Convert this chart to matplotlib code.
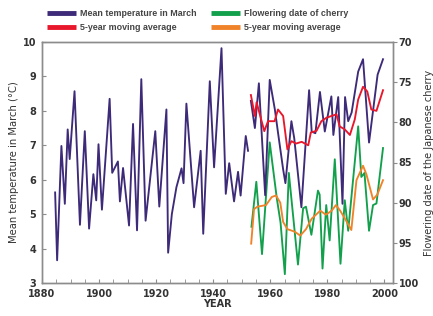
import matplotlib
matplotlib.use("Agg")
import matplotlib.pyplot as plt
from matplotlib.ticker import MultipleLocator

# ---- data ----
temp1_years = [1884.6, 1885.3, 1886.8, 1888.0, 1889.0, 1889.7, 1891.4, 1893.3, 1895.0, 1896.5,
               1898.0, 1899.0, 1899.8, 1901.0, 1903.7, 1904.6, 1906.6, 1907.3, 1908.4, 1910.5,
               1911.9, 1913.3, 1914.8, 1916.3, 1919.7, 1921.1, 1923.6, 1924.2, 1925.5, 1927.1,
               1928.9, 1929.6, 1930.6, 1933.3, 1935.6, 1936.5, 1938.8, 1940.3, 1942.9, 1944.4,
               1945.6, 1947.3, 1948.7, 1949.6, 1951.4, 1952.2]
temp1_vals = [5.63, 3.66, 6.98, 5.30, 7.46, 6.60, 8.57, 4.69, 7.41, 4.58,
              6.16, 5.40, 7.03, 5.13, 8.35, 6.20, 6.53, 5.37, 6.34, 4.67,
              7.62, 4.53, 8.92, 4.81, 7.41, 5.22, 8.04, 3.88, 5.00, 5.78,
              6.33, 5.90, 8.21, 5.20, 6.84, 4.43, 8.86, 6.36, 9.82, 5.59,
              6.48, 5.37, 6.23, 5.54, 7.27, 6.84]

temp2_years = [1953.2, 1954.6, 1956.0, 1958.2, 1959.8, 1961.6, 1962.7, 1964.5, 1965.3, 1967.4,
               1968.4, 1970.9, 1973.6, 1974.5, 1975.8, 1977.4, 1979.1, 1981.4, 1982.1, 1983.8,
               1985.3, 1986.2, 1987.3, 1988.5, 1990.8, 1992.5, 1994.6, 1997.6, 1999.5]
temp2_vals = [8.29, 7.50, 8.80, 5.55, 8.90, 8.04, 7.37, 6.30, 5.90, 7.70,
              7.20, 5.20, 8.60, 7.40, 7.35, 8.55, 7.40, 8.42, 7.30, 8.40,
              5.30, 8.40, 7.70, 7.95, 9.14, 9.50, 7.08, 9.05, 9.50]

tma_years = [1953.2, 1954.6, 1955.2, 1957.9, 1959.2, 1961.5, 1962.7, 1964.5, 1966.0, 1967.4,
             1969.0, 1971.0, 1973.3, 1974.2, 1976.2, 1977.9, 1979.7, 1981.4, 1983.2, 1984.3,
             1986.1, 1987.9, 1989.6, 1990.8, 1992.5, 1994.0, 1995.4, 1997.2, 1999.5]
tma_vals = [8.46, 7.85, 8.25, 7.41, 7.70, 7.70, 8.04, 7.85, 6.88, 7.12,
            7.05, 7.10, 7.00, 7.37, 7.42, 7.70, 7.80, 7.85, 7.90, 7.55,
            7.46, 7.30, 7.75, 8.33, 8.70, 8.56, 8.04, 8.00, 8.60]

flower_years = [1953.4, 1955.1, 1957.1, 1959.8, 1962.3, 1963.6, 1965.1, 1966.5, 1969.7, 1971.5,
                1972.5, 1974.4, 1976.7, 1977.3, 1978.3, 1979.6, 1980.8, 1982.6, 1984.6, 1986.1,
                1987.3, 1990.8, 1991.9, 1993.0, 1994.6, 1996.0, 1997.2, 1999.5]
flower_vals = [93.0, 87.4, 96.4, 82.5, 89.5, 92.5, 98.9, 86.3, 97.7, 90.7,
               90.5, 94.0, 88.5, 89.0, 98.2, 90.3, 94.7, 84.6, 97.6, 89.7,
               93.5, 80.5, 86.8, 86.3, 93.5, 90.3, 90.1, 83.2]

fma_years = [1953.3, 1954.3, 1955.5, 1958.5, 1960.5, 1962.0, 1963.5, 1964.5, 1966.0, 1968.5,
             1970.5, 1972.5, 1974.5, 1976.0, 1977.5, 1979.5, 1981.5, 1983.0, 1984.5, 1986.5,
             1988.4, 1990.2, 1992.5, 1993.7, 1996.0, 1997.5, 1999.5]
fma_vals = [95.1, 90.8, 90.5, 90.3, 89.3, 89.1, 90.0, 92.4, 93.3, 93.6,
            94.1, 93.3, 92.0, 91.5, 91.0, 91.5, 91.0, 90.3, 91.0, 92.2,
            93.4, 87.2, 85.4, 86.5, 89.6, 89.0, 87.2]

x_labels = [1880, 1900, 1920, 1940, 1960, 1980, 2000]
temp_ticks = [3, 4, 5, 6, 7, 8, 9, 10]
date_ticks = [70, 75, 80, 85, 90, 95, 100]

C_PURPLE = "#3d2a78"
C_RED = "#e8172c"
C_GREEN = "#12a04c"
C_ORANGE = "#f0832a"
C_TEXT = "#333333"
C_SPINE = "#8c8c8c"

fig = plt.figure(figsize=(4.33, 3.16), dpi=100)
ax = fig.add_axes([42/433, 1-283/316, 351/433, 241/316])
ax2 = ax.twinx()

LW = 1.35
l1, = ax.plot(temp1_years, temp1_vals, color=C_PURPLE, lw=LW, solid_joinstyle="round")
ax.plot(temp2_years, temp2_vals, color=C_PURPLE, lw=LW, solid_joinstyle="round")
l2, = ax.plot(tma_years, tma_vals, color=C_RED, lw=LW, solid_joinstyle="round")
l3, = ax2.plot(flower_years, flower_vals, color=C_GREEN, lw=LW, solid_joinstyle="round")
l4, = ax2.plot(fma_years, fma_vals, color=C_ORANGE, lw=LW, solid_joinstyle="round")
ax.set_zorder(ax2.get_zorder() + 1)
ax.patch.set_visible(False)

ax.set_xlim(1880, 2003)
ax.set_ylim(3, 10)
ax2.set_ylim(100, 70)

ax.set_xticks(x_labels)
ax.xaxis.set_minor_locator(MultipleLocator(5))
ax.set_yticks(temp_ticks)
ax2.set_yticks(date_ticks)

tfont = dict(fontsize=7, fontweight="bold", color=C_TEXT)
ax.set_xticklabels([str(v) for v in x_labels], **tfont)
ax.set_yticklabels([str(v) for v in temp_ticks], **tfont)
ax2.set_yticklabels([str(v) for v in date_ticks], **tfont)

ax.tick_params(axis="x", which="both", direction="in", length=3, color=C_SPINE, pad=4)
ax.tick_params(axis="y", direction="in", length=3, color=C_SPINE, pad=4)
ax2.tick_params(axis="y", direction="out", length=3, color=C_SPINE, pad=1)

for a in (ax, ax2):
    for s in a.spines.values():
        s.set_color(C_SPINE)
        s.set_linewidth(1.0)

ax.set_xlabel("YEAR", fontsize=7, fontweight="bold", color=C_TEXT, labelpad=0)
ax.set_ylabel("Mean temperature in March (\u00b0C)", fontsize=7.2, color=C_TEXT, labelpad=3)
ax2.set_ylabel("Flowering date of the Japanese cherry", fontsize=7.0, color=C_TEXT,
               rotation=90, labelpad=4)

leg = fig.legend([l1, l2, l3, l4],
                 ["Mean temperature in March", "5-year moving average",
                  "Flowering date of cherry", "5-year moving average"],
                 loc="upper left", bbox_to_anchor=(40/433, 0.995), ncol=2, frameon=False,
                 prop=dict(family="Liberation Sans", size=6.4, weight="bold"),
                 handlelength=3.3, handletextpad=0.4,
                 columnspacing=1.6, labelspacing=0.6, borderpad=0.3)
for t in leg.get_texts():
    t.set_color("#444444")
for h in leg.legend_handles:
    h.set_linewidth(3.5)
    h.set_solid_capstyle("butt")

fig.savefig("out.png", dpi=100)
